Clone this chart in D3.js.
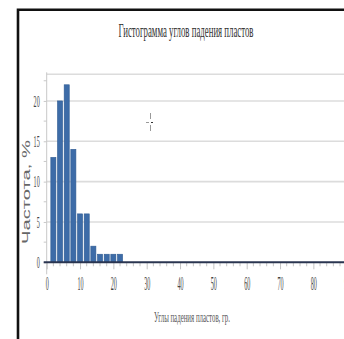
<!DOCTYPE html>
<html>
<head>
<meta charset="utf-8">
<script src="https://cdn.jsdelivr.net/npm/d3@7/dist/d3.min.js"></script>
<style>
  html, body { margin: 0; padding: 0; background: #fff; }
  svg { display: block; }
</style>
</head>
<body>
<div id="chart"></div>
<script>
// Histogram of bedding dip angles (2-degree bins)
const binCenters = [2, 4, 6, 8, 10, 12, 14, 16, 18, 20, 22];
const frequency  = [13, 20, 22, 14, 6, 6, 2, 1, 1, 1, 1];
const xTicks = [0, 10, 20, 30, 40, 50, 60, 70, 80, 90];
const yTicks = [0, 5, 10, 15, 20];
const binWidth = 2;

const titleText = "Гистограмма углов падения пластов";
const xLabelText = "Углы падения пластов, гр.";
const yLabelText = "Частота, %";

const W = 344, H = 339;
const svg = d3.select("#chart").append("svg").attr("width", W).attr("height", H);

const plot = { left: 46.7, top: 74.3, bottom: 262.3 };
const x = d3.scaleLinear().domain([0, 90]).range([plot.left, plot.left + 300]);
const y = d3.scaleLinear().domain([0, 23.3]).range([plot.bottom, plot.top]);

const serif = "'Liberation Serif', 'DejaVu Serif', serif";

// squeeze text horizontally to a narrow, condensed look
function condense(sel, factor) {
  sel.each(function () {
    const len = this.getComputedTextLength();
    d3.select(this).attr("textLength", len * factor).attr("lengthAdjust", "spacingAndGlyphs");
  });
}

// outer frame
svg.append("path")
  .attr("d", `M18,${H} L18,9.8 L${W},9.8`)
  .attr("fill", "none").attr("stroke", "#111").attr("stroke-width", 2.6);

// title
svg.append("text")
  .attr("x", 186).attr("y", 37)
  .attr("text-anchor", "middle")
  .attr("font-family", serif).attr("font-size", 18).attr("fill", "#333")
  .attr("textLength", 135).attr("lengthAdjust", "spacingAndGlyphs")
  .text(titleText);

// horizontal gridlines
svg.append("g").selectAll("line")
  .data(yTicks.filter(d => d > 0).concat([23.3]))
  .join("line")
  .attr("x1", plot.left).attr("x2", W)
  .attr("y1", d => y(d)).attr("y2", d => y(d))
  .attr("stroke", "#dcdcdc").attr("stroke-width", 1.6);

// y axis
const yAxis = svg.append("g")
  .attr("transform", `translate(${plot.left},0)`)
  .call(d3.axisLeft(y).tickValues(yTicks).tickSize(3).tickPadding(4).tickFormat(d3.format("d")));
yAxis.select(".domain").attr("stroke", "#c8c8c8").attr("d", `M0,${plot.top - 2}V${plot.bottom + 12}`);
yAxis.selectAll(".tick line").attr("stroke", "#c8c8c8");
yAxis.selectAll("text")
  .attr("font-family", serif).attr("font-size", 16).attr("fill", "#444");
condense(yAxis.selectAll("text"), 0.38);

// minor y ticks
svg.append("g").selectAll("line")
  .data(d3.range(2.5, 23.3, 5))
  .join("line")
  .attr("x1", plot.left - 3).attr("x2", plot.left)
  .attr("y1", d => y(d)).attr("y2", d => y(d))
  .attr("stroke", "#c8c8c8");

// bars
svg.append("g").selectAll("rect")
  .data(binCenters.map((c, i) => ({ c, v: frequency[i] })))
  .join("rect")
  .attr("x", d => x(d.c - binWidth / 2) + 0.8)
  .attr("width", d => x(d.c + binWidth / 2) - x(d.c - binWidth / 2) - 1.6)
  .attr("y", d => y(d.v))
  .attr("height", d => y(0) - y(d.v))
  .attr("fill", "#3d6ca8")
  .attr("stroke", "#2e5a92").attr("stroke-width", 0.6);

// x axis
const xAxis = svg.append("g")
  .attr("transform", `translate(0,${plot.bottom})`)
  .call(d3.axisBottom(x).tickValues(xTicks).tickSize(7).tickPadding(8).tickFormat(d3.format("d")));
xAxis.select(".domain").remove();
xAxis.selectAll(".tick line").attr("stroke", "#c4c4c4");
xAxis.selectAll("text")
  .attr("font-family", serif).attr("font-size", 18.5).attr("fill", "#444");
condense(xAxis.selectAll("text"), 0.33);

// minor x ticks every 2 degrees
svg.append("g").selectAll("line")
  .data(d3.range(2, 92, 2).filter(d => d % 10 !== 0))
  .join("line")
  .attr("x1", d => x(d)).attr("x2", d => x(d))
  .attr("y1", plot.bottom).attr("y2", plot.bottom + 4)
  .attr("stroke", "#c4c4c4");

// dark baseline
svg.append("line")
  .attr("x1", plot.left - 3).attr("x2", W)
  .attr("y1", plot.bottom).attr("y2", plot.bottom)
  .attr("stroke", "#2a3550").attr("stroke-width", 2);

// x axis title
svg.append("text")
  .attr("x", 192).attr("y", 322)
  .attr("text-anchor", "middle")
  .attr("font-family", serif).attr("font-size", 14).attr("fill", "#555")
  .attr("textLength", 76).attr("lengthAdjust", "spacingAndGlyphs")
  .text(xLabelText);

// y axis title
svg.append("text")
  .attr("transform", "translate(30,192) rotate(-90)")
  .attr("text-anchor", "middle")
  .attr("font-family", "'Liberation Sans', Arial, sans-serif").attr("font-size", 10).attr("fill", "#666")
  .attr("textLength", 104).attr("lengthAdjust", "spacingAndGlyphs")
  .text(yLabelText);

// pointer crosshair
const cur = svg.append("g").attr("stroke", "#999").attr("stroke-width", 1);
cur.append("line").attr("x1", 150.5).attr("x2", 150.5).attr("y1", 113).attr("y2", 119);
cur.append("line").attr("x1", 150.5).attr("x2", 150.5).attr("y1", 125).attr("y2", 131);
cur.append("line").attr("x1", 146).attr("x2", 149).attr("y1", 122.5).attr("y2", 122.5);
cur.append("line").attr("x1", 151).attr("x2", 153).attr("y1", 122.5).attr("y2", 122.5).attr("stroke", "#333");
</script>
</body>
</html>
